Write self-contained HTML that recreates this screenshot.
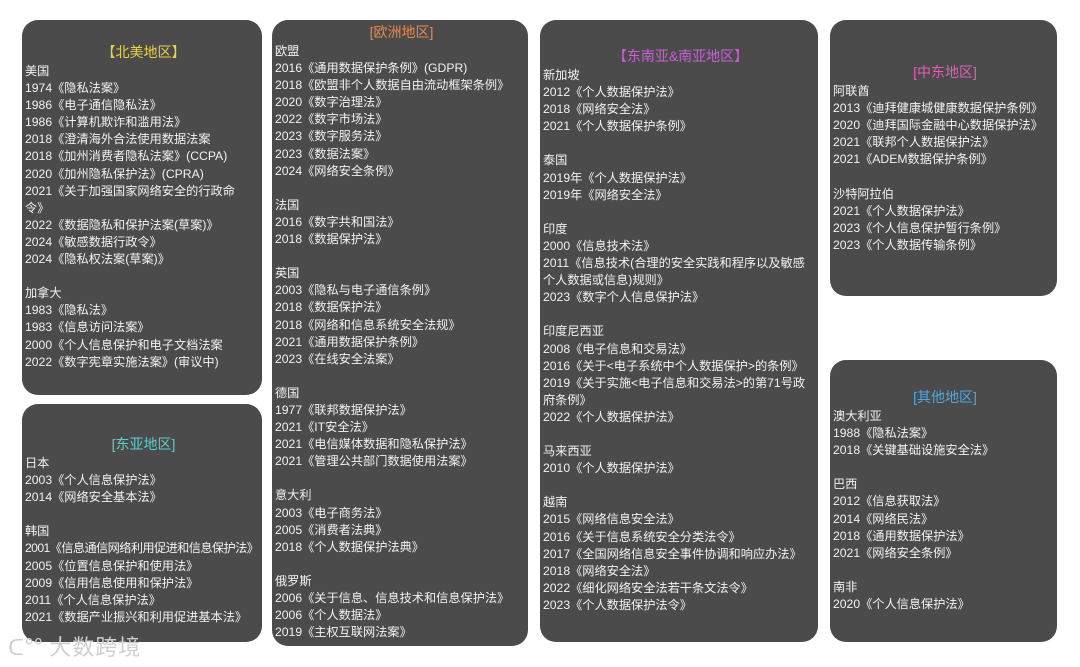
<!DOCTYPE html>
<html><head><meta charset="utf-8"><style>
body{margin:0;width:1080px;height:667px;background:#fff;position:relative;overflow:hidden;font-family:"Liberation Sans","Noto Sans CJK SC",sans-serif;}
.b{position:absolute;background:#4b4b4b;border-radius:16px;color:#f2f2f2;font-size:12.2px;box-sizing:border-box;padding-left:3px;}
.b div{height:17.1px;line-height:17.1px;white-space:nowrap;}
.b div.t{text-align:center;font-size:14px;height:21px;line-height:21px;}
.wm{position:absolute;left:8px;top:630px;font-size:22px;color:#cfcfcf;font-family:"Noto Sans CJK SC",sans-serif;letter-spacing:1px}
</style></head><body>
<div class="b" style="left:22px;top:20px;width:240px;height:375px;padding-top:22px">
<div class="t" style="color:#e6d24a">【北美地区】</div>
<div>美国</div><div>1974《隐私法案》</div><div>1986《电子通信隐私法》</div><div>1986《计算机欺诈和滥用法》</div><div>2018《澄清海外合法使用数据法案</div><div>2018《加州消费者隐私法案》(CCPA)</div><div>2020《加州隐私保护法》(CPRA)</div><div>2021《关于加强国家网络安全的行政命</div><div>令》</div><div>2022《数据隐私和保护法案(草案)》</div><div>2024《敏感数据行政令》</div><div>2024《隐私权法案(草案)》</div><div></div><div>加拿大</div><div>1983《隐私法》</div><div>1983《信息访问法案》</div><div>2000《个人信息保护和电子文档法案</div><div>2022《数字宪章实施法案》(审议中)</div>
</div>
<div class="b" style="left:22px;top:404px;width:240px;height:238px;padding-top:30px">
<div class="t" style="color:#5ccfd0">[东亚地区]</div>
<div>日本</div><div>2003《个人信息保护法》</div><div>2014《网络安全基本法》</div><div></div><div>韩国</div><div style="letter-spacing:-0.6px">2001《信息通信网络利用促进和信息保护法》</div><div>2005《位置信息保护和使用法》</div><div>2009《信用信息使用和保护法》</div><div>2011《个人信息保护法》</div><div>2021《数据产业振兴和利用促进基本法》</div>
</div>
<div class="b" style="left:272px;top:20px;width:256px;height:626px;padding-top:2px">
<div class="t" style="color:#e8884a">[欧洲地区]</div>
<div>欧盟</div><div>2016《通用数据保护条例》(GDPR)</div><div>2018《欧盟非个人数据自由流动框架条例》</div><div>2020《数字治理法》</div><div>2022《数字市场法》</div><div>2023《数字服务法》</div><div>2023《数据法案》</div><div>2024《网络安全条例》</div><div></div>
<div>法国</div><div>2016《数字共和国法》</div><div>2018《数据保护法》</div><div></div>
<div>英国</div><div>2003《隐私与电子通信条例》</div><div>2018《数据保护法》</div><div>2018《网络和信息系统安全法规》</div><div>2021《通用数据保护条例》</div><div>2023《在线安全法案》</div><div></div>
<div>德国</div><div>1977《联邦数据保护法》</div><div>2021《IT安全法》</div><div>2021《电信媒体数据和隐私保护法》</div><div>2021《管理公共部门数据使用法案》</div><div></div>
<div>意大利</div><div>2003《电子商务法》</div><div>2005《消费者法典》</div><div>2018《个人数据保护法典》</div><div></div>
<div>俄罗斯</div><div>2006《关于信息、信息技术和信息保护法》</div><div>2006《个人数据法》</div><div>2019《主权互联网法案》</div>
</div>
<div class="b" style="left:540px;top:20px;width:278px;height:622px;padding-top:26px">
<div class="t" style="color:#c95fd6">【东南亚&amp;南亚地区】</div>
<div>新加坡</div><div>2012《个人数据保护法》</div><div>2018《网络安全法》</div><div>2021《个人数据保护条例》</div><div></div>
<div>泰国</div><div>2019年《个人数据保护法》</div><div>2019年《网络安全法》</div><div></div>
<div>印度</div><div>2000《信息技术法》</div><div>2011《信息技术(合理的安全实践和程序以及敏感</div><div>个人数据或信息)规则》</div><div>2023《数字个人信息保护法》</div><div></div>
<div>印度尼西亚</div><div>2008《电子信息和交易法》</div><div>2016《关于&lt;电子系统中个人数据保护&gt;的条例》</div><div>2019《关于实施&lt;电子信息和交易法&gt;的第71号政</div><div>府条例》</div><div>2022《个人数据保护法》</div><div></div>
<div>马来西亚</div><div>2010《个人数据保护法》</div><div></div>
<div>越南</div><div>2015《网络信息安全法》</div><div>2016《关于信息系统安全分类法令》</div><div>2017《全国网络信息安全事件协调和响应办法》</div><div>2018《网络安全法》</div><div>2022《细化网络安全法若干条文法令》</div><div>2023《个人数据保护法令》</div>
</div>
<div class="b" style="left:830px;top:20px;width:227px;height:276px;padding-top:42px">
<div class="t" style="color:#e05fb5">[中东地区]</div>
<div>阿联酋</div><div>2013《迪拜健康城健康数据保护条例》</div><div>2020《迪拜国际金融中心数据保护法》</div><div>2021《联邦个人数据保护法》</div><div>2021《ADEM数据保护条例》</div><div></div>
<div>沙特阿拉伯</div><div>2021《个人数据保护法》</div><div>2023《个人信息保护暂行条例》</div><div>2023《个人数据传输条例》</div>
</div>
<div class="b" style="left:830px;top:360px;width:227px;height:282px;padding-top:27px">
<div class="t" style="color:#4aa8e8">[其他地区]</div>
<div>澳大利亚</div><div>1988《隐私法案》</div><div>2018《关键基础设施安全法》</div><div></div>
<div>巴西</div><div>2012《信息获取法》</div><div>2014《网络民法》</div><div>2018《通用数据保护法》</div><div>2021《网络安全条例》</div><div></div>
<div>南非</div><div>2020《个人信息保护法》</div>
</div>
<div class="wm">ᑕ°° 大数跨境</div>
</body></html>
